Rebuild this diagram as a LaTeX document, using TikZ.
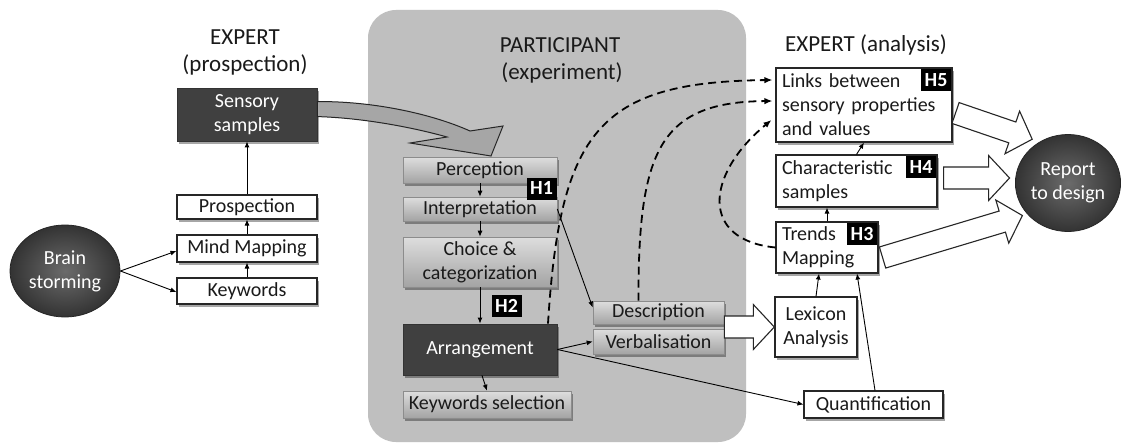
\documentclass[tikz,border=0pt]{standalone}
\usepackage{fontspec}
\setmainfont{Carlito}
\usetikzlibrary{arrows.meta,shadows,calc,shapes.geometric}
\definecolor{panel}{HTML}{BFBFBF}
\definecolor{darkfill}{HTML}{404040}
\definecolor{ink}{HTML}{1A1A1A}
\definecolor{arrowgray}{HTML}{A6A6A6}
\newcommand\hollowarrow[3]{%
  \begin{scope}[shift={#1}, rotate=#2]
    \draw[blockarrow] (0,-11) -- (#3,-11) -- (#3,-22.5) -- ({#3+21},0) -- (#3,22.5) -- (#3,11) -- (0,11) -- cycle;
  \end{scope}}
\begin{document}
\begin{tikzpicture}[x=1pt,y=-1pt,
  font=\fontsize{20}{24}\selectfont,
  shd/.style={drop shadow={shadow xshift=2pt,shadow yshift=-2.5pt,fill=black,opacity=0.35}},
  wbox/.style={draw=black!85, line width=1.1pt, fill=white, inner sep=0pt, text=ink, shd},
  gbox/.style={draw=black!45, line width=0.6pt, top color=black!13, bottom color=black!36, inner sep=0pt, text=ink, align=center, shd},
  dbox/.style={draw=black!80, line width=0.8pt, fill=darkfill, inner sep=0pt, text=white, align=center, shd},
  ell/.style={ellipse, draw=black!85, line width=0.8pt, inner sep=0pt, shading=radial, inner color=black!58, outer color=black!80, text=white, align=center},
  hlab/.style={fill=black, text=white, inner sep=0pt, minimum width=30pt, minimum height=22pt, font=\fontsize{20}{24}\selectfont\bfseries},
  title/.style={font=\fontsize{23}{27}\selectfont, text=ink},
  conn/.style={-{Latex[length=6pt,width=5pt]}, line width=0.9pt, draw=black},
  dconn/.style={-{Latex[length=8pt,width=6.5pt]}, line width=1.8pt, dash pattern=on 8pt off 5pt, draw=black},
  blockarrow/.style={draw=black!85, line width=1.1pt, fill=white},
  grayarrow/.style={draw=black!85, line width=1pt, fill=arrowgray}
]
\useasboundingbox (0,0) rectangle (1121,444);
\fill[white] (0,0) rectangle (1121,444);

% participant panel
\fill[panel, rounded corners=28pt] (368,10) rectangle (746,442);

% titles
\node[title] (t1) at (245,37) {EXPERT};
\node[title] (t2) at (245,65) {(prospection)};
\node[title] (t3) at (560,45) {PARTICIPANT};
\node[title] (t4) at (562,73) {(experiment)};
\node[title] (t5) at (866,45) {EXPERT (analysis)};

% left column
\node[dbox, minimum width=140pt, minimum height=53pt] (sens) at (247,114.5) {Sensory\\samples};
\node[wbox, minimum width=140pt, minimum height=24pt] (prosp) at (247,207) {Prospection};
\node[wbox, minimum width=140pt, minimum height=27pt] (mind) at (247,248.5) {Mind Mapping};
\node[wbox, minimum width=140pt, minimum height=26pt] (keyw) at (247,291) {Keywords};
\node[ell, minimum width=110pt, minimum height=92pt] (brain) at (65,271) {Brain\\storming};

% curved gray arrow
\draw[grayarrow] ($(sens.north east)+(0,14)$) .. controls (370,101) and (430,113) .. (470,131)
  -- (503,126) -- (491,156) -- (410,143) -- (447,137)
  .. controls (415,128) and (365,118) .. ($(sens.north east)+(0,29)$) -- cycle;

% participant boxes
\node[gbox, minimum width=154pt, minimum height=26pt] (perc) at (480,170) {Perception};
\node[gbox, minimum width=154pt, minimum height=24pt] (interp) at (480,209) {Interpretation};
\node[gbox, minimum width=154pt, minimum height=50pt] (choice) at (480,262) {Choice \&\\categorization};
\node[dbox, minimum width=154pt, minimum height=51pt] (arr) at (480,349.5) {Arrangement};
\node[gbox, minimum width=168pt, minimum height=27pt] (kws) at (487,404.5) {Keywords selection};
\node[gbox, minimum width=131pt, minimum height=23pt] (desc) at (658.5,312.5) {Description};
\node[gbox, minimum width=131pt, minimum height=25pt] (verb) at (658.5,341.5) {Verbalisation};
\node[hlab] (h1) at (541.5,188.5) {H1};
\node[hlab] (h2) at (506.5,305.5) {H2};

% expert analysis boxes
\node[wbox, minimum width=176pt, minimum height=74pt, text width=164pt, align=left] (links) at (864,105) {Links between\\sensory properties\\and values};
\node[wbox, minimum width=161pt, minimum height=52pt, text width=149pt, align=left] (char) at (856.5,181) {Characteristic\\samples};
\node[wbox, minimum width=102pt, minimum height=51pt, text width=90pt, align=left] (trends) at (827,247.5) {Trends\\Mapping};
\node[wbox, minimum width=82pt, minimum height=60pt, align=center] (lex) at (816,327) {Lexicon\\Analysis};
\node[wbox, minimum width=139pt, minimum height=27pt] (quant) at (873.5,404.5) {Quantification};
\node[hlab] (h5) at (936,80) {H5};
\node[hlab] (h4) at (921,167) {H4};
\node[hlab] (h3) at (862,234) {H3};
\node[ell, minimum width=102pt, minimum height=97pt] (report) at (1068,183) {Report\\to design};

% hollow block arrows
\hollowarrow{($(desc.east)!0.5!(verb.east)$)}{0}{29}
\hollowarrow{($(links.east)+(3,8)$)}{-18.9}{60}
\hollowarrow{($(char.east)+(6,-3)$)}{0}{45}
\hollowarrow{($(trends.east)+(4,10)$)}{16.7}{125}

% thin connectors
\draw[conn] (prosp.north) -- (sens.south);
\draw[conn] (mind.north) -- (prosp.south);
\draw[conn] (keyw.north) -- (mind.south);
\draw[conn] (brain.east) -- ($(mind.west)+(0,2.5)$);
\draw[conn] (brain.east) -- ($(keyw.west)+(0,1)$);
\draw[conn] (perc.south) -- (interp.north);
\draw[conn] (interp.south) -- (choice.north);
\draw[conn] (choice.south) -- (arr.north);
\draw[conn] ($(arr.south)+(2,0)$) -- (kws.north);
\draw[conn] (interp.east) -- ($(desc.west)+(0,-5)$);
\draw[conn] (arr.east) -- (verb.west);
\draw[conn] (arr.east) -- (quant.west);
\draw[conn] (char.north) -- ($(links.south)+(0,0)$);
\draw[conn] (trends.north) -- (trends.north |- char.south);
\draw[conn] (lex.north) -- ($(trends.south)+(-8,0)$);
\draw[conn] ($(quant.north)+(1.5,0)$) -- ($(trends.south)+(30,0)$);

% dashed connectors
\draw[dconn] ($(arr.north)+(68,0)$) .. controls (560,130) and (600,82) .. ($(links.west)+(-3,-25)$);
\draw[dconn] ($(desc.north)+(-20,0)$) .. controls (638,150) and (660,102) .. ($(links.west)+(-3,-4)$);
\draw[dconn] (trends.west) .. controls (700,240) and (705,175) .. ($(links.west)+(-4,15)$);
\end{tikzpicture}
\end{document}
